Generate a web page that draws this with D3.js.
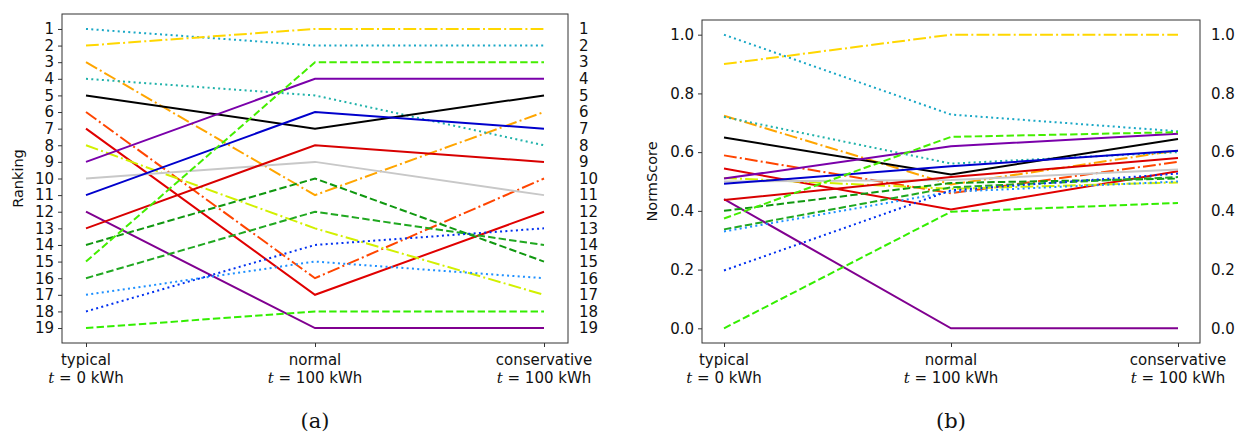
<!DOCTYPE html>
<html>
<head>
<meta charset="utf-8">
<script src="https://cdn.jsdelivr.net/npm/d3@7"></script>
<style>
  body { margin: 0; background: #fff; }
  text { font-family: "DejaVu Sans", sans-serif; }
</style>
</head>
<body>
<svg id="chart" width="1237" height="437"></svg>
<script>
// scenarios on the x axis
var scenarios = ['typical', 'normal', 'conservative'];
var scenarioSub = ['0', '100', '100'];

// one entry per line: colour + dash style
var colors = ['#1aa8c6', '#ffd700', '#ffa500', '#20b2aa', '#000000', '#ff4500',
              '#e00000', '#d2f000', '#7a00aa', '#c8c8c8', '#0000cc', '#800090',
              '#d80000', '#109810', '#44ee00', '#20a820', '#1e90ff', '#0030f0', '#33ee00'];
var styles = ['dot', 'dashdot', 'dashdot', 'dot', 'solid', 'dashdot',
              'solid', 'dashdot', 'solid', 'solid', 'solid', 'solid',
              'solid', 'dash', 'dash', 'dash', 'dot', 'dot', 'dash'];

// ranking per scenario
var rankTypical      = [1, 2, 3, 4, 5, 6, 7, 8, 9, 10, 11, 12, 13, 14, 15, 16, 17, 18, 19];
var rankNormal       = [2, 1, 11, 5, 7, 16, 17, 13, 4, 9, 6, 19, 8, 10, 3, 12, 15, 14, 18];
var rankConservative = [2, 1, 6, 8, 5, 10, 12, 17, 4, 11, 7, 19, 9, 15, 3, 14, 16, 13, 18];

// normalised score per scenario
var scoreTypical      = [1.0, 0.90, 0.724, 0.72, 0.65, 0.589, 0.544, 0.512, 0.51, 0.50, 0.492, 0.44, 0.437, 0.40, 0.374, 0.337, 0.33, 0.197, 0.0];
var scoreNormal       = [0.728, 1.0, 0.49, 0.561, 0.524, 0.46, 0.405, 0.475, 0.62, 0.505, 0.552, 0.0, 0.515, 0.495, 0.652, 0.48, 0.465, 0.47, 0.397];
var scoreConservative = [0.671, 1.0, 0.606, 0.60, 0.645, 0.567, 0.535, 0.497, 0.663, 0.541, 0.605, 0.0, 0.58, 0.51, 0.668, 0.515, 0.50, 0.527, 0.427];

var rankTicks = d3.range(1, 20);
var scoreTicks = [0, 0.2, 0.4, 0.6, 0.8, 1.0];

var dashes = {
  solid: null,
  dash: '7.4,3.2',
  dot: '2,3.3',
  dashdot: '12.8,3.2,2,3.2'
};

var fontSize = 15;
var svg = d3.select('#chart');

function panel(opts) {
  var g = svg.append('g');
  var x = d3.scalePoint().domain(scenarios).range([opts.x0 + opts.pad, opts.x1 - opts.pad]);
  var y = d3.scaleLinear().domain(opts.domain).range([opts.y0, opts.y1]);

  var series = opts.cols[0].map(function(d, i) {
    return opts.cols.map(function(c, j) { return [scenarios[j], c[i]]; });
  });

  var line = d3.line()
    .x(function(d) { return x(d[0]); })
    .y(function(d) { return y(d[1]); });

  g.selectAll('path.series').data(series).enter()
    .append('path')
      .attr('class', 'series')
      .attr('d', line)
      .attr('fill', 'none')
      .attr('stroke', function(d, i) { return colors[i]; })
      .attr('stroke-width', 2)
      .attr('stroke-dasharray', function(d, i) { return dashes[styles[i]]; });

  // frame
  g.append('rect')
    .attr('x', opts.x0).attr('y', opts.y0)
    .attr('width', opts.x1 - opts.x0).attr('height', opts.y1 - opts.y0)
    .attr('fill', 'none').attr('stroke', '#333').attr('stroke-width', 1);

  var left = d3.axisLeft(y).tickValues(opts.ticks).tickFormat(opts.fmt).tickSize(4).tickPadding(4);
  var la = g.append('g').attr('transform', 'translate(' + opts.x0 + ',0)').call(left);
  la.select('.domain').remove();

  var right = d3.axisRight(y).tickValues(opts.ticks).tickFormat(opts.fmt).tickSize(0).tickPadding(opts.rpad);
  var ra = g.append('g').attr('transform', 'translate(' + opts.x1 + ',0)').call(right);
  ra.select('.domain').remove();

  var bottom = d3.axisBottom(x).tickSize(4).tickFormat('');
  var ba = g.append('g').attr('transform', 'translate(0,' + opts.y1 + ')').call(bottom);
  ba.select('.domain').remove();

  g.selectAll('.tick line').attr('stroke', '#333');
  g.selectAll('.tick text').attr('font-size', fontSize).attr('fill', '#111')
    .style('font-family', '"DejaVu Sans", sans-serif');

  scenarios.forEach(function(s, j) {
    g.append('text')
      .attr('x', x(s)).attr('y', opts.y1 + 22)
      .attr('text-anchor', 'middle').attr('font-size', fontSize).attr('fill', '#111')
      .text(s);
    var t2 = g.append('text')
      .attr('x', x(s)).attr('y', opts.y1 + 40)
      .attr('text-anchor', 'middle').attr('font-size', fontSize).attr('fill', '#111');
    t2.append('tspan').attr('font-style', 'italic').style('font-family', '"DejaVu Serif", serif').text('t');
    t2.append('tspan').text(' = ' + scenarioSub[j] + ' kWh');
  });

  g.append('text')
    .attr('transform', 'translate(' + opts.labelX + ',' + ((opts.y0 + opts.y1) / 2) + ') rotate(-90)')
    .attr('text-anchor', 'middle').attr('font-size', 14.5).attr('fill', '#111')
    .text(opts.label);

  g.append('text')
    .attr('x', (opts.x0 + opts.x1) / 2).attr('y', 428)
    .attr('text-anchor', 'middle').attr('font-size', 21)
    .style('font-family', '"DejaVu Serif", serif').attr('fill', '#111')
    .text(opts.caption);
}

panel({
  x0: 62, x1: 568, y0: 14, y1: 343, pad: 24,
  domain: [0.1, 19.9],
  cols: [rankTypical, rankNormal, rankConservative],
  ticks: rankTicks, fmt: d3.format('d'), rpad: 11,
  label: 'Ranking', labelX: 23, caption: '(a)'
});

panel({
  x0: 702, x1: 1200, y0: 20, y1: 343, pad: 22,
  domain: [1.05, -0.05],
  cols: [scoreTypical, scoreNormal, scoreConservative],
  ticks: scoreTicks, fmt: d3.format('.1f'), rpad: 11,
  label: 'NormScore', labelX: 657, caption: '(b)'
});
</script>
</body>
</html>
